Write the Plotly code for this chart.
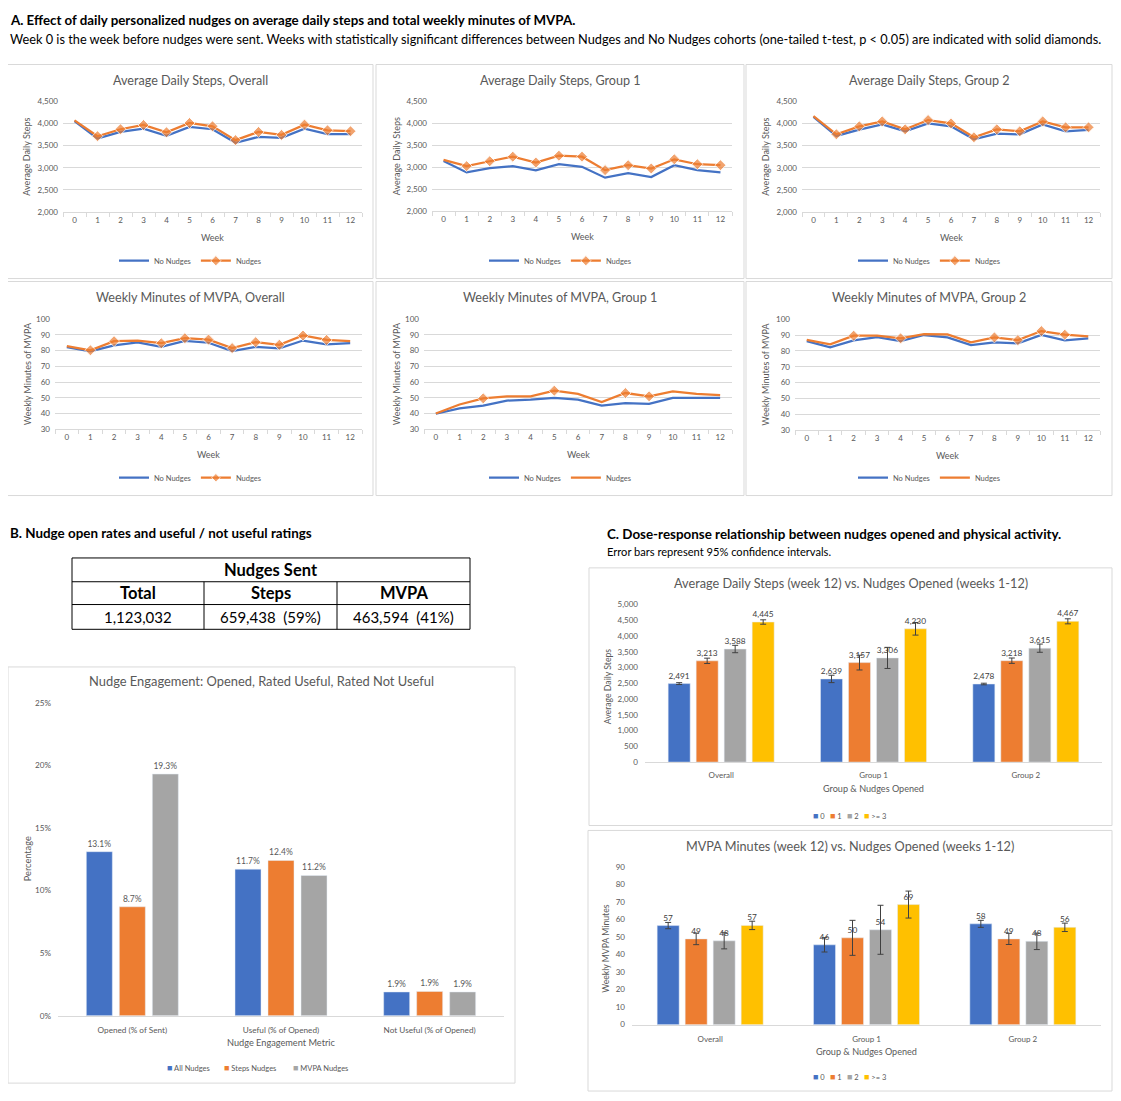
import plotly.graph_objects as go

W, H = 1121, 1101
OX, OY = 8, 8            # browser page margin
WF, HF = W - OX, H - OY  # figure size
FONT = "Lato"
GRAY_TXT = "#595959"
GRID = "#d9d9d9"
BLUE, ORANGE, GRAYC, YELLOW = "#4472C4", "#ED7D31", "#A5A5A5", "#FFC000"

# ---------------- data ----------------
weeks = list(range(13))

steps_overall_no = [4054, 3659, 3808, 3882, 3719, 3920, 3868, 3562, 3696, 3674, 3882, 3756, 3756]
steps_overall_yes = [4068, 3711, 3868, 3964, 3800, 4009, 3935, 3622, 3808, 3741, 3972, 3845, 3823]
steps_g1_no = [3140, 2881, 2978, 3023, 2926, 3067, 3008, 2762, 2866, 2777, 3045, 2933, 2881]
steps_g1_yes = [3165, 3023, 3135, 3239, 3105, 3261, 3239, 2933, 3045, 2970, 3179, 3067, 3045]
steps_g2_no = [4149, 3717, 3858, 3978, 3821, 4000, 3933, 3642, 3769, 3754, 3978, 3821, 3851]
steps_g2_yes = [4164, 3754, 3933, 4045, 3866, 4075, 4000, 3687, 3866, 3821, 4045, 3911, 3911]

mvpa_overall_no = [82.2, 79.5, 83.3, 85.2, 82.4, 86.2, 85.0, 79.7, 82.4, 81.4, 86.4, 83.9, 84.8]
mvpa_overall_yes = [82.9, 80.2, 86.0, 86.4, 84.7, 87.9, 87.0, 81.6, 85.4, 83.7, 89.6, 86.8, 86.0]
mvpa_g1_no = [39.8, 43.2, 45.0, 48.2, 48.8, 49.9, 48.8, 45.0, 46.5, 46.1, 49.9, 49.9, 49.9]
mvpa_g1_yes = [40.0, 45.7, 49.6, 50.9, 50.9, 54.5, 52.4, 47.3, 53.0, 50.9, 54.0, 52.4, 51.7]
mvpa_g2_no = [86.2, 82.2, 86.6, 88.7, 86.2, 90.0, 88.5, 83.7, 85.4, 84.7, 90.0, 86.6, 87.9]
mvpa_g2_yes = [87.0, 84.1, 89.6, 89.6, 87.9, 90.6, 90.4, 85.4, 88.5, 86.8, 92.5, 90.2, 89.1]

# weeks with significant differences (solid diamonds)
sig_steps_overall = [1, 2, 3, 4, 5, 6, 7, 8, 9, 10, 11, 12]
sig_steps_g1 = [1, 2, 3, 4, 5, 6, 7, 8, 9, 10, 11, 12]
sig_steps_g2 = [1, 2, 3, 4, 5, 6, 7, 8, 9, 10, 11, 12]
sig_mvpa_overall = [1, 2, 4, 5, 6, 7, 8, 9, 10, 11]
sig_mvpa_g1 = [2, 5, 8, 9]
sig_mvpa_g2 = [2, 4, 8, 9, 10, 11]

# panel B
table_header = "Nudges Sent"
table_cols = ["Total", "Steps", "MVPA"]
table_vals = ["1,123,032", "659,438&#160;&#160;(59%)", "463,594&#160;&#160;(41%)"]

metrics = ["Opened (% of Sent)", "Useful (% of Opened)", "Not Useful (% of Opened)"]
nudge_types = ["All Nudges", "Steps Nudges", "MVPA Nudges"]
all_nudges = [13.1, 11.7, 1.9]
steps_nudges = [8.7, 12.4, 1.94]
mvpa_nudges = [19.3, 11.2, 1.9]

# panel C
groups = ["Overall", "Group 1", "Group 2"]
opened_cats = ["0", "1", "2", ">= 3"]
c_steps = [[2491, 2639, 2478], [3213, 3157, 3218], [3588, 3306, 3615], [4445, 4230, 4467]]
c_steps_err = [[30, 117, 25], [85, 234, 85], [117, 335, 130], [70, 200, 80]]
c_mvpa = [[56.6, 45.6, 57.6], [49.0, 49.6, 49.0], [47.9, 54.2, 47.6], [56.7, 68.6, 55.6]]
c_mvpa_err = [[1.8, 4.1, 2.0], [3.3, 10.0, 3.2], [4.6, 14.0, 4.7], [2.4, 7.7, 2.4]]


# ---------------- helpers ----------------
def px(x):
    return (x - OX) / WF


def py(y):
    return 1 - (y - OY) / HF


fig = go.Figure()
annotations = []
shapes = []
layout = {}
nleg = [0]


def new_legend():
    nleg[0] += 1
    return "legend" if nleg[0] == 1 else "legend" + str(nleg[0])


def box(x0, y0, x1, y1):
    shapes.append(dict(type="rect", xref="paper", yref="paper", x0=px(x0), x1=px(x1),
                       y0=py(y1), y1=py(y0), line=dict(color=GRID, width=1), layer="below"))


def text(x, y, s, size, color=GRAY_TXT, bold=False, xanchor="center", angle=0):
    annotations.append(dict(xref="paper", yref="paper", x=px(x), y=py(y), text=(f"<b>{s}</b>" if bold else s),
                            showarrow=False, xanchor=xanchor, yanchor="middle", textangle=angle,
                            font=dict(family=FONT, size=size, color=color)))


def square_legend(name, col, xa, ya, sq_x, sq_y):
    """one legend entry: coloured square glyph directly followed by the label"""
    leg = new_legend()
    fig.add_trace(go.Scatter(x=[None], y=[None], mode="markers", xaxis=xa, yaxis=ya, legend=leg,
                             name=f'<span style="color:{col};font-size:9px">■</span> {name}',
                             marker=dict(size=2, color="rgba(0,0,0,0)"), hoverinfo="skip"))
    layout[leg] = dict(x=px(sq_x - 44), y=py(sq_y), xanchor="left", yanchor="middle", orientation="h",
                       font=dict(family=FONT, size=7.5, color=GRAY_TXT), bgcolor="rgba(0,0,0,0)",
                       itemwidth=30)


TICKF = dict(family=FONT, size=8, color=GRAY_TXT)

line_panels = [
    # (title, ytitle, no, yes, sig, yrange, dtick, fmt, plot(x0,x1,y0,y1), box(x0,y0,x1,y1), legend_diamond)
    ("Average Daily Steps, Overall", "Average Daily Steps", steps_overall_no, steps_overall_yes, sig_steps_overall,
     [2000, 4500], 500, ",", (63, 362, 97, 209), (7, 60, 373, 276), True),
    ("Average Daily Steps, Group 1", "Average Daily Steps", steps_g1_no, steps_g1_yes, sig_steps_g1,
     [2000, 4500], 500, ",", (432, 732, 97, 208), (376, 60, 744, 276), True),
    ("Average Daily Steps, Group 2", "Average Daily Steps", steps_g2_no, steps_g2_yes, sig_steps_g2,
     [2000, 4500], 500, ",", (802, 1100, 97, 209), (746, 60, 1112, 276), True),
    ("Weekly Minutes of MVPA, Overall", "Weekly Minutes of MVPA", mvpa_overall_no, mvpa_overall_yes, sig_mvpa_overall,
     [30, 100], 10, "", (55, 362, 317, 428), (7, 279, 373, 495), True),
    ("Weekly Minutes of MVPA, Group 1", "Weekly Minutes of MVPA", mvpa_g1_no, mvpa_g1_yes, sig_mvpa_g1,
     [30, 100], 10, "", (424, 732, 317, 428), (376, 279, 744, 495), False),
    ("Weekly Minutes of MVPA, Group 2", "Weekly Minutes of MVPA", mvpa_g2_no, mvpa_g2_yes, sig_mvpa_g2,
     [30, 100], 10, "", (795, 1100, 317, 429), (746, 279, 1112, 495), False),
]

idx = 0
for (title, ytitle, no, yes, sig, yr, dt, fmt, pa, bx, ldia) in line_panels:
    idx += 1
    sfx = "" if idx == 1 else str(idx)
    xa, ya = "x" + sfx, "y" + sfx
    leg = new_legend()
    fig.add_trace(go.Scatter(x=weeks, y=no, mode="lines", name="No Nudges", xaxis=xa, yaxis=ya,
                             line=dict(color=BLUE, width=2.25), legend=leg))
    sizes = [8.5 if w in sig else 0 for w in weeks]
    if ldia:
        fig.add_trace(go.Scatter(x=weeks, y=yes, mode="lines+markers", name="Nudges", xaxis=xa, yaxis=ya,
                                 line=dict(color=ORANGE, width=2.25),
                                 marker=dict(symbol="diamond", size=sizes, color=ORANGE), legend=leg))
    else:
        fig.add_trace(go.Scatter(x=weeks, y=yes, mode="lines", name="Nudges", xaxis=xa, yaxis=ya,
                                 line=dict(color=ORANGE, width=2.25), legend=leg))
        fig.add_trace(go.Scatter(x=weeks, y=yes, mode="markers", name="Nudges", xaxis=xa, yaxis=ya,
                                 marker=dict(symbol="diamond", size=sizes, color=ORANGE),
                                 showlegend=False, legend=leg))
    x0, x1, y0, y1 = pa
    layout["xaxis" + sfx] = dict(domain=[px(x0), px(x1)], anchor=ya, range=[-0.5, 12.5], tickvals=weeks,
                                 ticks="", showline=True, linecolor=GRID, showgrid=False, zeroline=False,
                                 tickfont=TICKF,
                                 minor=dict(tickvals=[w - 0.5 for w in weeks] + [12.5], ticks="outside",
                                            ticklen=4, tickcolor=GRID, showgrid=False))
    layout["yaxis" + sfx] = dict(domain=[py(y1), py(y0)], anchor=xa, range=yr, dtick=dt, tickformat=fmt,
                                 showgrid=True, gridcolor=GRID, zeroline=False, showline=False, ticks="",
                                 tickfont=TICKF, ticklabelstandoff=4)
    bx0, by0, bx1, by1 = bx
    box(bx0, by0, bx1, by1)
    cx = (bx0 + bx1) / 2
    text(cx, by0 + 16, title, 12.6)
    text((x0 + x1) / 2, y1 + 26, "Week", 9)
    text(bx0 + 20, (y0 + y1) / 2, ytitle, 9, angle=-90)
    layout[leg] = dict(x=px(cx), y=py(by0 + 198), xanchor="center", yanchor="middle", orientation="h",
                       font=dict(family=FONT, size=7.5, color=GRAY_TXT), bgcolor="rgba(0,0,0,0)",
                       itemwidth=30, tracegroupgap=0)


def grouped_bars(cats, series_names, series_vals, colors, xa, ya, cat_px, bar_px, step_px, tt, tfont,
                 errs=None):
    n = len(series_names)
    bw = bar_px / cat_px
    st = step_px / cat_px
    for k in range(n):
        center = (k - (n - 1) / 2) * st
        kw = {}
        if errs is not None:
            kw["error_y"] = dict(type="data", array=errs[k], color="#404040", thickness=1, width=3)
        fig.add_trace(go.Bar(x=cats, y=series_vals[k], name=series_names[k], marker_color=colors[k],
                             xaxis=xa, yaxis=ya, width=bw, offset=center - bw / 2,
                             texttemplate=tt, textposition="outside", cliponaxis=False,
                             textfont=tfont, showlegend=False, **kw))


# ---------------- panel B bar chart ----------------
idx += 1
sfx = str(idx)
bpa = (58, 504, 704, 1020)
grouped_bars(metrics, nudge_types, [all_nudges, steps_nudges, mvpa_nudges], [BLUE, ORANGE, GRAYC],
             "x" + sfx, "y" + sfx, (bpa[1] - bpa[0]) / 3, 26, 33, "%{y:.1f}%",
             dict(family=FONT, size=8.5, color=GRAY_TXT))
for name, col, sx in zip(nudge_types, [BLUE, ORANGE, GRAYC], [171, 228, 297]):
    square_legend(name, col, "x" + sfx, "y" + sfx, sx, 1073)
layout["xaxis" + sfx] = dict(domain=[px(bpa[0]), px(bpa[1])], anchor="y" + sfx, showline=True, linecolor=GRID,
                             ticks="", tickfont=dict(family=FONT, size=8.2, color=GRAY_TXT), ticklabelstandoff=6)
layout["yaxis" + sfx] = dict(domain=[py(bpa[3]), py(bpa[2])], anchor="x" + sfx, range=[0, 25], dtick=5,
                             ticksuffix="%", showgrid=False, zeroline=False, ticks="",
                             tickfont=dict(family=FONT, size=8.2, color=GRAY_TXT), ticklabelstandoff=6)
box(8, 668, 515, 1088)
text(261.5, 682, "Nudge Engagement: Opened, Rated Useful, Rated Not Useful", 12.9)
text((bpa[0] + bpa[1]) / 2, 1047, "Nudge Engagement Metric", 9.2)
text(27, 862, "Percentage", 9.2, angle=-90)

# ---------------- panel C bar charts ----------------
c_panels = [
    ("Average Daily Steps (week 12) vs. Nudges Opened (weeks 1-12)", "Average Daily Steps", c_steps, c_steps_err,
     [0, 5000], 500, ",", "%{y:,}", (645, 1102, 605, 764), (589, 568, 1112, 828), (791, 818), 5),
    ("MVPA Minutes (week 12) vs. Nudges Opened (weeks 1-12)", "Weekly MVPA Minutes", c_mvpa, c_mvpa_err,
     [0, 90], 10, "", "%{y:.0f}", (632, 1101, 870, 1029), (588, 833, 1112, 1096), (1056, 1082), 7),
]
colors4 = [BLUE, ORANGE, GRAYC, YELLOW]
for (title, ytitle, vals, errs, yr, dt, fmt, tt, pa, bx, ys, tso) in c_panels:
    idx += 1
    sfx = str(idx)
    x0, x1, y0, y1 = pa
    grouped_bars(groups, opened_cats, vals, colors4, "x" + sfx, "y" + sfx, (x1 - x0) / 3, 22, 28, tt,
                 dict(family=FONT, size=8.3, color="#404040"), errs=errs)
    for name, col, sx in zip(opened_cats, colors4, [817, 834, 851, 868]):
        square_legend(name, col, "x" + sfx, "y" + sfx, sx, ys[1])
    layout["xaxis" + sfx] = dict(domain=[px(x0), px(x1)], anchor="y" + sfx, showline=True, linecolor=GRID,
                                 ticks="", tickfont=TICKF, ticklabelstandoff=tso)
    layout["yaxis" + sfx] = dict(domain=[py(y1), py(y0)], anchor="x" + sfx, range=yr, dtick=dt, tickformat=fmt,
                                 showgrid=False, zeroline=False, ticks="",
                                 tickfont=TICKF, ticklabelstandoff=6)
    bx0, by0, bx1, by1 = bx
    box(bx0, by0, bx1, by1)
    cx = (bx0 + bx1) / 2
    text(cx, by0 + 15.5, title, 12.7)
    text((x0 + x1) / 2, ys[0], "Group &amp; Nudges Opened", 9.1)
    text(bx0 + 18, (y0 + y1) / 2 + 3, ytitle, 8.7, angle=-90)

# ---------------- headings ----------------
text(8, 15, "A. Effect of daily personalized nudges on average daily steps and total weekly minutes of MVPA.",
     13.3, color="black", bold=True, xanchor="left")
text(8, 34, "Week 0 is the week before nudges were sent. Weeks with statistically significant differences between "
            "Nudges and No Nudges cohorts (one-tailed t-test, p &lt; 0.05) are indicated with solid diamonds.",
     12.75, color="black", xanchor="left")
text(8, 533, "B. Nudge open rates and useful / not useful ratings", 13.4, color="black", bold=True, xanchor="left")
text(605, 533.5, "C. Dose-response relationship between nudges opened and physical activity.", 13.4,
     color="black", bold=True, xanchor="left")
text(605, 551, "Error bars represent 95% confidence intervals.", 11.1, color="black", xanchor="left")

# ---------------- table ----------------
tx0, tx1 = 72, 470
tcol = [72, 204, 337, 470]
trow = [558, 582, 605, 630]
for yy in trow:
    shapes.append(dict(type="line", xref="paper", yref="paper", x0=px(tx0), x1=px(tx1), y0=py(yy), y1=py(yy),
                       line=dict(color="black", width=1)))
for xx in [tx0, tx1]:
    shapes.append(dict(type="line", xref="paper", yref="paper", x0=px(xx), x1=px(xx), y0=py(trow[0]),
                       y1=py(trow[3]), line=dict(color="black", width=1)))
for xx in tcol[1:3]:
    shapes.append(dict(type="line", xref="paper", yref="paper", x0=px(xx), x1=px(xx), y0=py(trow[1]),
                       y1=py(trow[3]), line=dict(color="black", width=1)))
text((tx0 + tx1) / 2, (trow[0] + trow[1]) / 2, table_header, 16.5, color="black", bold=True)
for k in range(3):
    cxk = (tcol[k] + tcol[k + 1]) / 2
    text(cxk, (trow[1] + trow[2]) / 2, table_cols[k], 16.5, color="black", bold=True)
    text(cxk, (trow[2] + trow[3]) / 2, table_vals[k], 15, color="black")

layout.update(dict(width=WF, height=HF, margin=dict(l=0, r=0, t=0, b=0), paper_bgcolor="white",
                   plot_bgcolor="white", barmode="group",
                   annotations=annotations, shapes=shapes, font=dict(family=FONT, color=GRAY_TXT)))
fig.update_layout(**layout)
fig.write_html("out.html")
